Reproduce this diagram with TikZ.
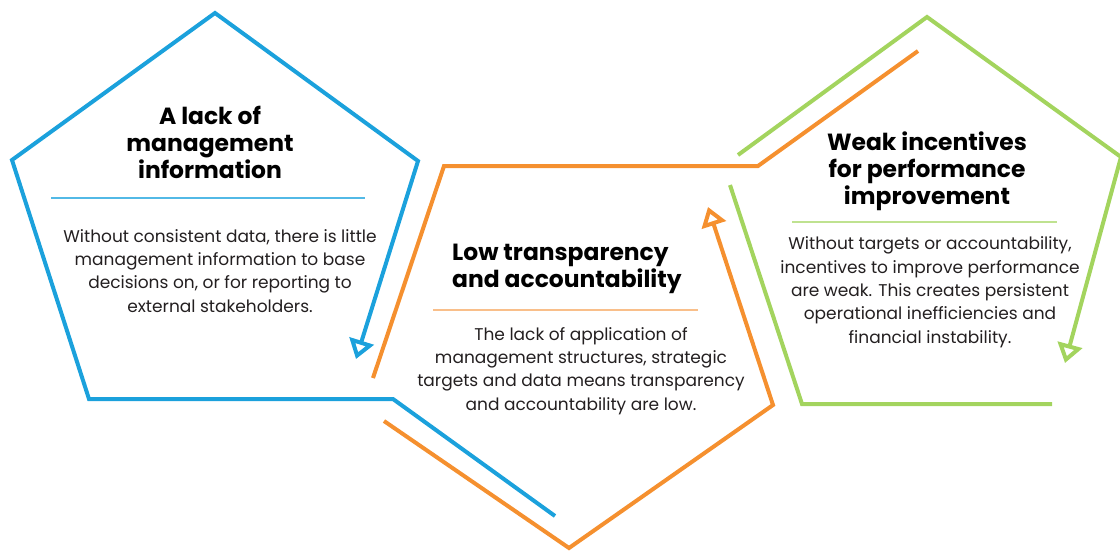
\documentclass[tikz,border=0pt]{standalone}
\usepackage{fontspec}
\setmainfont{Poppins}
\usetikzlibrary{arrows.meta}
\definecolor{cblue}{HTML}{1BA1DC}
\definecolor{corange}{HTML}{F5902F}
\definecolor{cgreen}{HTML}{A3D45E}
\definecolor{lblue}{HTML}{52B9E6}
\definecolor{lorange}{HTML}{F9BF8A}
\definecolor{lgreen}{HTML}{BFE290}
\definecolor{textdark}{HTML}{231F20}
\begin{document}
\begin{tikzpicture}[x=1pt,y=-1pt,
  edge/.style={line width=4pt, line join=miter},
  tipped/.style={-{Triangle[open,length=19pt,width=25pt]}},
  rule/.style={line width=1.2pt},
  heading/.style={font=\bfseries\fontsize{23.4}{27}\selectfont, align=center, anchor=base, inner sep=0pt, text=black},
  body/.style={font=\fontsize{17}{23.3}\selectfont, align=center, anchor=base, inner sep=0pt, text=textdark}]
\useasboundingbox (0,0) rectangle (1120,550);

% corner points of the blue outline
\coordinate (b1) at (555,516);
\coordinate (b2) at (393,399);
\coordinate (b3) at (89,399);
\coordinate (b4) at (12,160);
\coordinate (b5) at (215,13);
\coordinate (b6) at (418,161);
\coordinate (b7) at (356,359);

% corner points of the orange outline
\coordinate (o1) at (373,378);
\coordinate (o2) at (444,166);
\coordinate (o3) at (758,166);
\coordinate (o4) at (918,51);
\coordinate (o5) at (384,421);
\coordinate (o6) at (569,548);
\coordinate (o7) at (773,405);
\coordinate (o8) at (708,207);

% corner points of the green outline
\coordinate (g1) at (738,155);
\coordinate (g2) at (927,17);
\coordinate (g3) at (1121,157);
\coordinate (g4) at (1065,363);
\coordinate (g5) at (730,185);
\coordinate (g6) at (802,404);
\coordinate (g7) at (1052,404);

% outlines
\draw[edge, cblue, tipped] (b1) -- (b2) -- (b3) -- (b4) -- (b5) -- (b6) -- (b7);
\draw[edge, corange] (o1) -- (o2) -- (o3) -- (o4);
\draw[edge, corange, tipped] (o5) -- (o6) -- (o7) -- (o8);
\draw[edge, cgreen, tipped] (g1) -- (g2) -- (g3) -- (g4);
\draw[edge, cgreen] (g5) -- (g6) -- (g7);

% separators
\coordinate (sb1) at (51,198);  \coordinate (sb2) at (365,198);
\coordinate (so1) at (433,310); \coordinate (so2) at (698,310);
\coordinate (sg1) at (792,222); \coordinate (sg2) at (1057,222);
\draw[rule, lblue] (sb1) -- (sb2);
\draw[rule, lorange] (so1) -- (so2);
\draw[rule, lgreen] (sg1) -- (sg2);

% headings (anchored at the baseline of their last line)
\node[heading] (t1) at (210,178) {A lack of\\management\\information};
\node[heading, align=left, anchor=base west] (t2) at (452,287) {Low transparency\\and accountability};
\node[heading] (t3) at (927,204) {Weak incentives\\for performance\\improvement};

% descriptions
\node[body] (d1) at (220,312) {Without consistent data, there is little\\management information to base\\decisions on, or for reporting to\\external stakeholders.};
\node[body] (d2) at (581,410) {The lack of application of\\management structures, strategic\\targets and data means transparency\\and accountability are low.};
\node[body] (d3) at (930,343) {Without targets or accountability,\\incentives to improve performance\\are weak. This creates persistent\\operational inefficiencies and\\financial instability.};
\end{tikzpicture}
\end{document}
